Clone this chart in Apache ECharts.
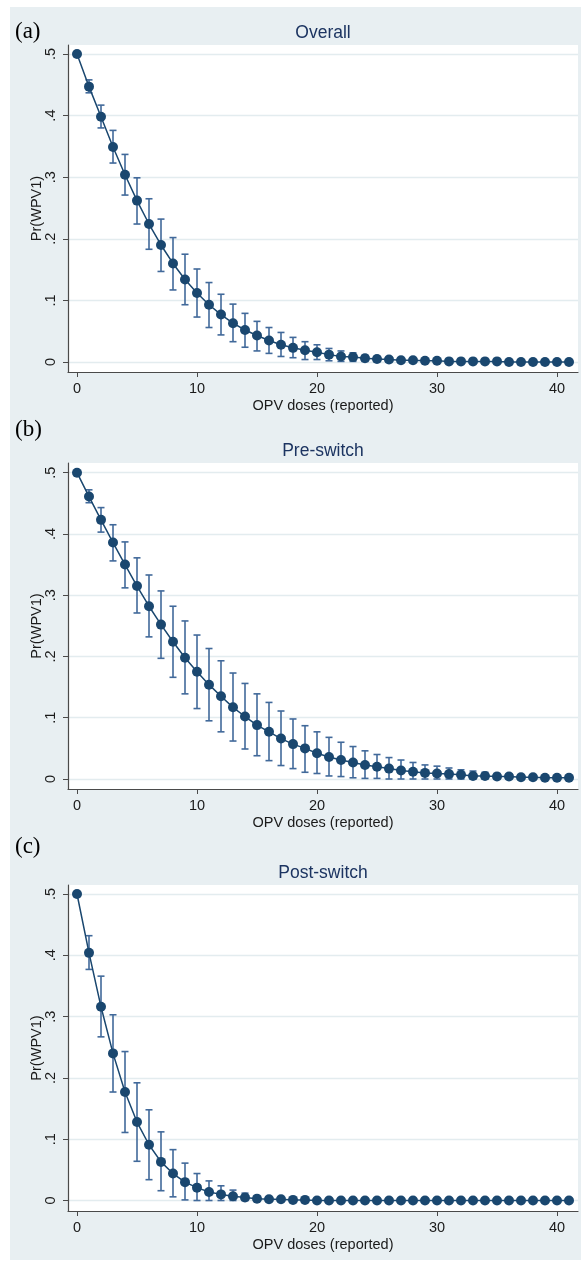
<!DOCTYPE html>
<html>
<head>
<meta charset="utf-8">
<title>Pr(WPV1) by OPV doses</title>
<script src="https://cdn.jsdelivr.net/npm/echarts@6/dist/echarts.min.js"></script>
<style>
html, body { margin: 0; padding: 0; background: #fff; }
#chart { width: 581px; height: 1265px; }
</style>
</head>
<body>
<div id="chart"></div>
<script>
// x: OPV doses (reported)
const doses = [0, 1, 2, 3, 4, 5, 6, 7, 8, 9, 10, 11, 12, 13, 14, 15, 16, 17, 18, 19, 20,
  21, 22, 23, 24, 25, 26, 27, 28, 29, 30, 31, 32, 33, 34, 35, 36, 37, 38, 39, 40, 41]
const xTicks = [0, 10, 20, 30, 40]
const yTicks = [0, 0.1, 0.2, 0.3, 0.4, 0.5]

// (a) Overall
const overallMean = [0.500, 0.447, 0.398, 0.349, 0.304, 0.262, 0.224, 0.190, 0.160, 0.134, 0.112,
  0.093, 0.077, 0.063, 0.052, 0.043, 0.035, 0.028, 0.023, 0.019, 0.016,
  0.012, 0.009, 0.008, 0.006, 0.005, 0.004, 0.003, 0.003, 0.002, 0.002,
  0.001, 0.001, 0.001, 0.001, 0.001, 0.000, 0.000, 0.000, 0.000, 0.000, 0.000]
const overallLow = [0.500, 0.437, 0.380, 0.323, 0.271, 0.224, 0.183, 0.147, 0.117, 0.093, 0.073,
  0.056, 0.044, 0.033, 0.024, 0.018, 0.014, 0.009, 0.007, 0.004, 0.004,
  0.002, 0.001, 0.001, 0.001, 0.001, 0.000, 0.000, 0.000, 0.000, 0.000,
  0.000, 0.000, 0.000, 0.000, 0.000, 0.000, 0.000, 0.000, 0.000, 0.000, 0.000]
const overallHigh = [0.500, 0.458, 0.417, 0.376, 0.337, 0.299, 0.265, 0.232, 0.202, 0.175, 0.151,
  0.129, 0.110, 0.094, 0.079, 0.066, 0.056, 0.048, 0.040, 0.033, 0.028,
  0.022, 0.018, 0.015, 0.011, 0.009, 0.007, 0.005, 0.004, 0.003, 0.003,
  0.002, 0.002, 0.001, 0.001, 0.001, 0.001, 0.001, 0.001, 0.000, 0.000, 0.000]

// (b) Pre-switch
const preMean = [0.500, 0.461, 0.423, 0.386, 0.350, 0.315, 0.282, 0.252, 0.224, 0.198, 0.175,
  0.154, 0.135, 0.117, 0.102, 0.088, 0.077, 0.066, 0.057, 0.050, 0.042,
  0.036, 0.031, 0.027, 0.023, 0.020, 0.017, 0.014, 0.012, 0.010, 0.009,
  0.008, 0.007, 0.005, 0.005, 0.004, 0.004, 0.003, 0.003, 0.002, 0.002, 0.002]
const preLow = [0.500, 0.451, 0.403, 0.356, 0.312, 0.271, 0.232, 0.197, 0.166, 0.139, 0.115,
  0.095, 0.077, 0.062, 0.049, 0.038, 0.030, 0.022, 0.017, 0.011, 0.009,
  0.005, 0.004, 0.002, 0.001, 0.001, 0.000, 0.000, 0.000, 0.000, 0.000,
  0.000, 0.000, 0.000, 0.000, 0.000, 0.000, 0.000, 0.000, 0.000, 0.000, 0.000]
const preHigh = [0.500, 0.472, 0.443, 0.415, 0.387, 0.361, 0.333, 0.307, 0.282, 0.258, 0.235,
  0.213, 0.193, 0.173, 0.156, 0.139, 0.125, 0.111, 0.098, 0.087, 0.077,
  0.068, 0.060, 0.053, 0.046, 0.040, 0.035, 0.031, 0.027, 0.023, 0.021,
  0.018, 0.015, 0.013, 0.011, 0.009, 0.008, 0.007, 0.006, 0.005, 0.004, 0.004]

// (c) Post-switch
const postMean = [0.500, 0.404, 0.316, 0.240, 0.177, 0.128, 0.091, 0.063, 0.044, 0.030, 0.021,
  0.014, 0.010, 0.007, 0.005, 0.003, 0.002, 0.002, 0.001, 0.001, 0.000,
  0.000, 0.000, 0.000, 0.000, 0.000, 0.000, 0.000, 0.000, 0.000, 0.000,
  0.000, 0.000, 0.000, 0.000, 0.000, 0.000, 0.000, 0.000, 0.000, 0.000, 0.000]
const postLow = [0.500, 0.377, 0.267, 0.177, 0.111, 0.064, 0.034, 0.016, 0.006, 0.001, 0.000,
  0.000, 0.000, 0.000, 0.000, 0.000, 0.000, 0.000, 0.000, 0.000, 0.000,
  0.000, 0.000, 0.000, 0.000, 0.000, 0.000, 0.000, 0.000, 0.000, 0.000,
  0.000, 0.000, 0.000, 0.000, 0.000, 0.000, 0.000, 0.000, 0.000, 0.000, 0.000]
const postHigh = [0.500, 0.432, 0.366, 0.303, 0.243, 0.192, 0.148, 0.112, 0.083, 0.061, 0.044,
  0.032, 0.024, 0.017, 0.012, 0.008, 0.005, 0.004, 0.003, 0.002, 0.001,
  0.001, 0.000, 0.000, 0.000, 0.000, 0.000, 0.000, 0.000, 0.000, 0.000,
  0.000, 0.000, 0.000, 0.000, 0.000, 0.000, 0.000, 0.000, 0.000, 0.000, 0.000]

const navy = '#1a476f'
const capColor = '#41699a'
const axisColor = '#4a4a4a'
const textColor = '#1a1a1a'
const headColor = '#1c3461'
const font = 'Liberation Sans, Arial, sans-serif'

// layout of each panel (pixel positions only)
const panels = [
  { tag: '(a)', title: 'Overall', mean: overallMean, low: overallLow, high: overallHigh,
    top: 45, height: 327, yMin: -0.0162, yMax: 0.5146, tagY: 33, titleY: 33 },
  { tag: '(b)', title: 'Pre-switch', mean: preMean, low: preLow, high: preHigh,
    top: 463, height: 326, yMin: -0.0163, yMax: 0.5158, tagY: 431, titleY: 451 },
  { tag: '(c)', title: 'Post-switch', mean: postMean, low: postLow, high: postHigh,
    top: 885, height: 326, yMin: -0.0171, yMax: 0.5147, tagY: 848, titleY: 873 }
]

// error bars with caps
function renderCaps (params, api) {
  const x = api.value(0)
  const lo = api.coord([x, api.value(1)])
  const hi = api.coord([x, api.value(2)])
  if (Math.abs(lo[1] - hi[1]) < 0.5) return null
  const half = 3.5
  const style = { stroke: capColor, lineWidth: 1.6 }
  return {
    type: 'group',
    children: [
      { type: 'line', shape: { x1: lo[0], y1: lo[1], x2: hi[0], y2: hi[1] }, style },
      { type: 'line', shape: { x1: lo[0] - half, y1: lo[1], x2: lo[0] + half, y2: lo[1] }, style },
      { type: 'line', shape: { x1: hi[0] - half, y1: hi[1], x2: hi[0] + half, y2: hi[1] }, style }
    ]
  }
}

const chart = echarts.init(document.getElementById('chart'))

const graphic = [{
  type: 'rect', z: -100, silent: true,
  shape: { x: 10, y: 7, width: 571, height: 1253 },
  style: { fill: '#e8eff2' }
}]
panels.forEach(p => {
  graphic.push({
    type: 'text', left: 15, top: p.tagY - 13,
    style: { text: p.tag, font: '23px "Liberation Serif", "Times New Roman", serif', fill: '#000' }
  })
  graphic.push({
    type: 'text', x: 323, y: p.titleY,
    style: { text: p.title, fontFamily: font, fontSize: 17.5, fill: headColor,
      textAlign: 'center', textVerticalAlign: 'middle' }
  })
})

const option = {
  animation: false,
  graphic,
  grid: panels.map(p => ({
    left: 68, right: 3, top: p.top, height: p.height,
    show: true, backgroundColor: '#fff', borderWidth: 0
  })),
  xAxis: panels.map((p, i) => ({
    type: 'value', gridIndex: i, min: -0.75, max: 41.75,
    name: 'OPV doses (reported)', nameLocation: 'middle', nameGap: 26, nameMoveOverlap: false,
    nameTextStyle: { fontFamily: font, fontSize: 14.5, color: textColor },
    axisLine: { show: true, onZero: false, lineStyle: { color: axisColor, width: 1.2 } },
    axisTick: { show: true, length: 5, customValues: xTicks, lineStyle: { color: axisColor } },
    axisLabel: { customValues: xTicks, margin: 9, fontFamily: font, fontSize: 14.5, color: textColor },
    splitLine: { show: false }
  })),
  yAxis: panels.map((p, i) => ({
    type: 'value', gridIndex: i, min: p.yMin, max: p.yMax,
    name: 'Pr(WPV1)', nameLocation: 'middle', nameGap: 24, nameMoveOverlap: false,
    nameTextStyle: { fontFamily: font, fontSize: 14.5, color: textColor },
    axisLine: { show: true, onZero: false, lineStyle: { color: axisColor, width: 1.2 } },
    axisTick: { show: true, length: 5, customValues: yTicks, lineStyle: { color: axisColor } },
    axisLabel: {
      customValues: yTicks, rotate: 90, margin: 10,
      fontFamily: font, fontSize: 14.5, color: textColor,
      formatter: v => (v === 0 ? '0' : String(v).replace(/^0/, ''))
    },
    splitLine: { show: true, lineStyle: { color: '#e3ecef', width: 1.3 } }
  })),
  series: []
}

panels.forEach((p, i) => {
  option.series.push({
    type: 'custom', xAxisIndex: i, yAxisIndex: i,
    renderItem: renderCaps,
    encode: { x: 0, y: [1, 2] },
    data: doses.map((d, k) => [d, p.low[k], p.high[k]]),
    z: 2
  })
  option.series.push({
    type: 'line', xAxisIndex: i, yAxisIndex: i,
    data: doses.map((d, k) => [d, p.mean[k]]),
    symbol: 'circle', symbolSize: 10, showSymbol: true,
    lineStyle: { color: navy, width: 1.5 },
    itemStyle: { color: navy },
    z: 3
  })
})

chart.setOption(option)
</script>
</body>
</html>
